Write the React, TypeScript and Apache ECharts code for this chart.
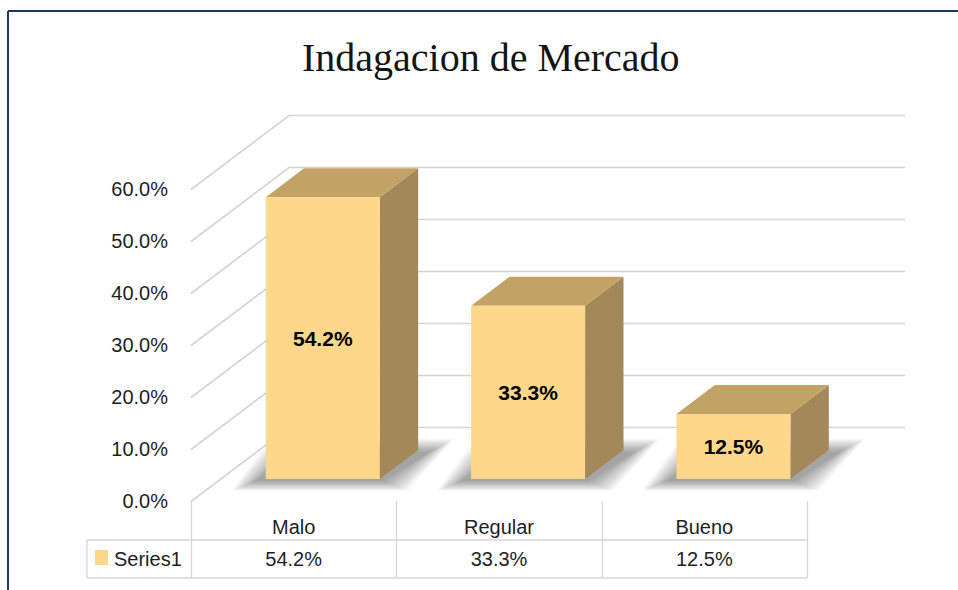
import React, { useEffect, useRef } from 'react';
import * as echarts from 'echarts';

const categories = ['Malo', 'Regular', 'Bueno'];
const values = [0.542, 0.333, 0.125];
const yTicks = [0, 0.1, 0.2, 0.3, 0.4, 0.5, 0.6];
const seriesName = 'Series1';
const titleText = 'Indagacion de Mercado';

const fmtPct = (v: number) => (v * 100).toFixed(1) + '%';
const valueLabels = values.map(fmtPct);

const W = 958;
const H = 590;
const GRID = { left: 191, top: 189, width: 616, height: 312 };
const DX = 98;
const DY = -74;
const BAR_FRONT = 0.297;
const BAR_BACK = 0.689;
const BAR_RATIO = 0.555;
const TABLE_LEFT = 87;
const ROW1_BOTTOM = 540;
const ROW2_BOTTOM = 578;
const COLORS = {
  front: '#FED88A',
  top: '#C2A265',
  side: '#A3895A',
  grid: '#D3D3D3',
  table: '#D6D6D6',
  border: '#1F3864',
  text: '#1E1E1E',
};
const FONT = '"Liberation Sans", Arial, sans-serif';
const FS = 20;

export default function App() {
  const ref = useRef<HTMLDivElement>(null);

  useEffect(() => {
    if (!ref.current) return;
    const chart = echarts.init(ref.current, null, { renderer: 'svg' });
    const gridBottomY = GRID.top + GRID.height;
    const tableRight = GRID.left + GRID.width;

    const graphics: any[] = [];
    // outer frame (top and left)
    graphics.push({ type: 'line', shape: { x1: 8, y1: 11, x2: W, y2: 11 }, style: { stroke: COLORS.border, lineWidth: 2 } });
    graphics.push({ type: 'line', shape: { x1: 8, y1: 11, x2: 8, y2: H }, style: { stroke: COLORS.border, lineWidth: 2 } });
    // data table lines
    for (let k = 0; k <= categories.length; k++) {
      const x = Math.round(GRID.left + (k * GRID.width) / categories.length) + 0.5;
      graphics.push({ type: 'line', shape: { x1: x, y1: gridBottomY, x2: x, y2: ROW2_BOTTOM }, style: { stroke: COLORS.table, lineWidth: 1.3 } });
    }
    graphics.push({ type: 'line', shape: { x1: TABLE_LEFT, y1: ROW1_BOTTOM, x2: tableRight, y2: ROW1_BOTTOM }, style: { stroke: COLORS.table, lineWidth: 1.3 } });
    graphics.push({ type: 'line', shape: { x1: TABLE_LEFT, y1: ROW2_BOTTOM, x2: tableRight, y2: ROW2_BOTTOM }, style: { stroke: COLORS.table, lineWidth: 1.3 } });
    graphics.push({ type: 'line', shape: { x1: TABLE_LEFT, y1: ROW1_BOTTOM, x2: TABLE_LEFT, y2: ROW2_BOTTOM }, style: { stroke: COLORS.table, lineWidth: 1.3 } });
    // legend key in table
    graphics.push({ type: 'rect', shape: { x: 95, y: 550, width: 13, height: 15 }, style: { fill: COLORS.front } });
    graphics.push({
      type: 'text',
      x: 114,
      y: (ROW1_BOTTOM + ROW2_BOTTOM) / 2,
      style: { text: seriesName, fill: COLORS.text, font: `${FS}px ${FONT}`, textAlign: 'left', textVerticalAlign: 'middle' },
    });

    const option: any = {
      animation: false,
      backgroundColor: '#ffffff',
      title: {
        text: titleText,
        left: 302,
        top: 37,
        padding: 0,
        textStyle: { fontFamily: '"Liberation Serif", "DejaVu Serif", serif', fontSize: 40, fontWeight: 'normal', color: '#141414' },
      },
      grid: { left: GRID.left, top: GRID.top, width: GRID.width, height: GRID.height },
      xAxis: [
        {
          type: 'category',
          data: categories,
          axisLine: { show: false },
          axisTick: { show: false },
          splitLine: { show: false },
          axisLabel: { margin: 16, fontSize: FS, fontFamily: FONT, color: COLORS.text },
        },
        {
          type: 'category',
          data: categories,
          position: 'bottom',
          axisLine: { show: false },
          axisTick: { show: false },
          splitLine: { show: false },
          axisLabel: { margin: 48, fontSize: FS, fontFamily: FONT, color: COLORS.text, formatter: (_v: string, i: number) => valueLabels[i] },
        },
      ],
      yAxis: {
        type: 'value',
        min: 0,
        max: 0.6,
        interval: 0.1,
        axisLine: { show: false },
        axisTick: { show: false },
        splitLine: { show: false },
        axisLabel: { margin: 23, fontSize: FS, fontFamily: FONT, color: COLORS.text, formatter: (v: number) => fmtPct(v), padding: [5, 0, 0, 0] },
      },
      graphic: graphics,
      series: [
        {
          type: 'custom',
          name: 'gridlines',
          silent: true,
          clip: false,
          data: yTicks.map((t) => [0, t]),
          encode: { x: 0, y: 1 },
          renderItem: (params: any, api: any) => {
            const cs = params.coordSys;
            const p = api.coord([0, api.value(1)]);
            const y = Math.round(p[1]) + 0.5;
            return {
              type: 'polyline',
              shape: { points: [[cs.x, y], [cs.x + DX, y + DY], [cs.x + cs.width + DX, y + DY]] },
              style: { stroke: COLORS.grid, lineWidth: 1.6, fill: 'none' },
            };
          },
        },
        {
          type: 'custom',
          name: 'shadows',
          silent: true,
          clip: false,
          data: values.map((v, i) => [i, v]),
          encode: { x: 0, y: 1 },
          renderItem: (params: any, api: any) => {
            const base = api.coord([api.value(0), 0]);
            const w = api.size([1, 0])[0] * BAR_RATIO;
            const fx = BAR_FRONT * DX;
            const fy = BAR_FRONT * DY;
            const ddx = (BAR_BACK - BAR_FRONT) * DX;
            const ddy = (BAR_BACK - BAR_FRONT) * DY;
            const x0 = base[0] - w / 2 + fx;
            const x1 = x0 + w;
            const yb = base[1] + fy;
            const children: any[] = [];
            for (let e = 24; e >= 0; e -= 2) {
              children.push({
                type: 'polygon',
                shape: {
                  points: [
                    [x0 - 10 - e, yb + 2 + e * 0.4],
                    [x1 + 4 + e, yb + 2 + e * 0.4],
                    [x1 + ddx + 12 + e, yb + ddy + 2 - e * 0.55],
                    [x0 + ddx - 10 - e, yb + ddy + 2 - e * 0.55],
                  ],
                },
                style: { fill: 'rgba(0,0,0,0.032)' },
              });
            }
            return { type: 'group', children };
          },
        },
        {
          type: 'custom',
          name: seriesName,
          clip: false,
          data: values.map((v, i) => [i, v]),
          encode: { x: 0, y: 1 },
          renderItem: (params: any, api: any) => {
            const idx = api.value(0);
            const v = api.value(1);
            const base = api.coord([idx, 0]);
            const topP = api.coord([idx, v]);
            const w = api.size([1, 0])[0] * BAR_RATIO;
            const fx = BAR_FRONT * DX;
            const fy = BAR_FRONT * DY;
            const ddx = (BAR_BACK - BAR_FRONT) * DX;
            const ddy = (BAR_BACK - BAR_FRONT) * DY;
            const x0 = base[0] - w / 2 + fx;
            const x1 = x0 + w;
            const yb = base[1] + fy;
            const yt = topP[1] + fy;
            return {
              type: 'group',
              children: [
                {
                  type: 'polygon',
                  shape: { points: [[x1, yt], [x1 + ddx, yt + ddy], [x1 + ddx, yb + ddy], [x1, yb]] },
                  style: { fill: COLORS.side },
                },
                {
                  type: 'polygon',
                  shape: { points: [[x0, yt], [x1, yt], [x1 + ddx, yt + ddy], [x0 + ddx, yt + ddy]] },
                  style: { fill: COLORS.top },
                },
                {
                  type: 'rect',
                  shape: { x: x0, y: yt, width: w, height: yb - yt },
                  style: { fill: COLORS.front },
                },
                {
                  type: 'text',
                  x: x0 + w / 2,
                  y: (yt + yb) / 2,
                  style: {
                    text: valueLabels[params.dataIndex],
                    fill: '#000000',
                    font: `bold 21px ${FONT}`,
                    textAlign: 'center',
                    textVerticalAlign: 'middle',
                    align: 'center',
                    verticalAlign: 'middle',
                  },
                },
              ],
            };
          },
        },
      ],
    };

    chart.setOption(option);
    return () => chart.dispose();
  }, []);

  return <div ref={ref} style={{ position: 'fixed', left: 0, top: 0, width: W, height: H, background: '#fff' }} />;
}
